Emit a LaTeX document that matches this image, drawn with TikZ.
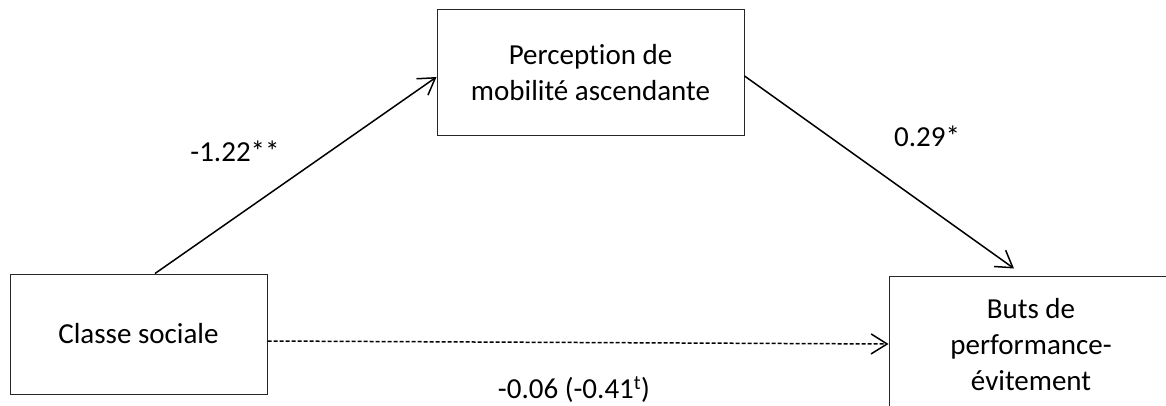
\documentclass[tikz,border=0pt]{standalone}
\usepackage{fontspec}
\setmainfont{Carlito}[Ligatures=NoCommon]
\usetikzlibrary{arrows.meta}

\tikzset{
	varbox/.style={draw=black!85, line width=1pt, align=center, inner sep=0pt,
		font=\fontsize{29}{36}\selectfont},
	coef/.style={font=\fontsize{29}{36}\selectfont},
	path/.style={line width=1.5pt, -{Straight Barb[length=16pt,width=20pt,line width=1.5pt]}}
}

\begin{document}
\begin{tikzpicture}[x=1pt, y=-1pt]
			%%%%% START %%%%%
			
			\clip (0, 0) rectangle (1166, 406);
			
			\node[varbox, minimum width=257pt, minimum height=120pt] (classe) at (138.5, 334) {Classe sociale};
			\node[varbox, minimum width=307pt, minimum height=126pt] (percep) at (590.5, 73) {Perception de\\mobilité ascendante};
			\node[varbox, minimum width=284pt, minimum height=138pt] (buts) at (1031, 345) {Buts de\\performance-\\évitement};
			
			\draw[path] ([xshift=16.5pt]classe.north) -- ([yshift=-4pt]percep.west);
			\draw[path] ([yshift=-3pt]percep.east) -- ([xshift=-17pt, yshift=7pt]buts.north);
			\draw[path, dash pattern=on 4pt off 2pt] ([yshift=-7pt]classe.east) -- ([yshift=1pt]buts.west);
			
			\node[coef] (a) at (235, 151) {-1.22**};
			\node[coef] (b) at (927, 136) {0.29*};
			\node[coef] (c) at (574, 390) {-0.06 (-0.41\textsuperscript{t})};
			
			%%%%% END %%%%%
		\end{tikzpicture}
\end{document}
